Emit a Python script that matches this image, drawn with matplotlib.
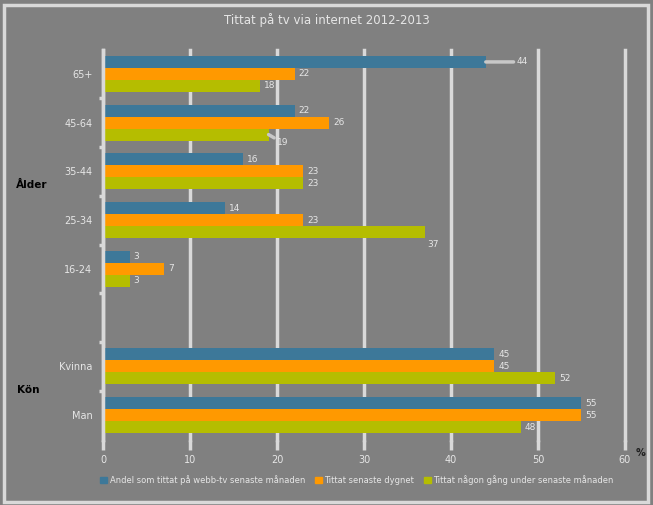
import matplotlib
matplotlib.use("Agg")
import matplotlib.pyplot as plt
from matplotlib.patches import Rectangle
import numpy as np

# ── data ────────────────────────────────────────────────────────────────
categories = ["65+", "45-64", "35-44", "25-34", "16-24", "", "Kvinna", "Man"]
series_names = [
    "Andel som tittat på webb-tv senaste månaden",
    "Tittat senaste dygnet",
    "Tittat någon gång under senaste månaden",
]
blue = [44, 22, 16, 14, 3, None, 45, 55]
orange = [22, 26, 23, 23, 7, None, 45, 55]
green = [18, 19, 23, 37, 3, None, 52, 48]
groups = ["Ålder", "Kön"]
x_ticks = [0, 10, 20, 30, 40, 50, 60]
title = "Tittat på tv via internet 2012-2013"

colors = ["#3d7899", "#ff9900", "#b5bd00"]
bg = "#808080"
light = "#d9d9d9"
txt = "#e6e6e6"

fig = plt.figure(figsize=(6.53, 5.05), dpi=100, facecolor=bg)
ax = fig.add_axes([103.5 / 653, 1 - 439.5 / 505, (624.8 - 103.5) / 653, 390 / 505])
ax.set_facecolor(bg)

# outer frame
fig.patches.append(Rectangle((3.5 / 653, 3.5 / 505), 1 - 9 / 653, 1 - 8 / 505,
                             transform=fig.transFigure, fill=False,
                             edgecolor=light, linewidth=2.5))

y = np.arange(len(categories))
h = 0.245
offsets = [-h, 0, h]

for vals, off, col in zip([blue, orange, green], offsets, colors):
    for i, v in enumerate(vals):
        if v is None:
            continue
        ax.barh(y[i] + off, v, height=h, color=col, zorder=3)

# value labels
special = {(0, 0): (22, 0), (1, 2): (6, -6), (3, 2): (2, -9)}
for s, (vals, off) in enumerate(zip([blue, orange, green], offsets)):
    for i, v in enumerate(vals):
        if v is None:
            continue
        dx, dy = special.get((i, s), (3, 0))
        arrow = None
        if dx > 5:
            arrow = dict(arrowstyle="-", color="#c8c8c8", lw=2.5, shrinkA=0, shrinkB=0)
        ax.annotate(str(v), xy=(v, y[i] + off), xytext=(dx, dy),
                    textcoords="offset points", ha="left", va="center",
                    fontsize=6.5, color=txt, zorder=5, arrowprops=arrow)

ax.set_xlim(0, 60)
ax.set_ylim(len(categories) - 0.5, -0.5)
ax.set_xticks(x_ticks)
ax.set_xticklabels([str(t) for t in x_ticks], fontsize=7, color=txt)
ax.set_yticks(y)
ax.set_yticklabels(categories, fontsize=7, color=txt)
ax.tick_params(axis="y", length=0, pad=8)
ax.tick_params(axis="x", length=7, width=2.5, color=light, pad=4)
ax.set_yticks(np.arange(1, len(categories)) - 0.5, minor=True)
ax.tick_params(axis="y", which="minor", length=3, width=2.5, color=light)

ax.grid(axis="x", color=light, linewidth=2.5, zorder=1)
ax.set_axisbelow(True)
for gl in ax.get_xgridlines():
    gl.set_clip_on(False)
for side in ["top", "right", "bottom"]:
    ax.spines[side].set_visible(False)
ax.spines["left"].set_color(light)
ax.spines["left"].set_linewidth(2.5)
ax.spines["left"].set_zorder(4)

ax.text(1.03, -0.035, "%", transform=ax.transAxes, fontsize=7,
        color="#202020", fontweight="bold", ha="center", va="center")

# group labels of the multi-level axis
fig.text(32 / 653, 1 - 185 / 505, groups[0], fontsize=7.5, fontweight="bold",
         color="black", ha="center", va="center")
fig.text(28 / 653, 1 - 390 / 505, groups[1], fontsize=7.5, fontweight="bold",
         color="black", ha="center", va="center")

fig.text(0.5, 1 - 20 / 505, title, fontsize=8.5, color=txt, ha="center", va="center")

handles = [Rectangle((0, 0), 1, 1, color=c) for c in colors]
leg = fig.legend(handles, series_names, loc="center", ncol=3,
                 bbox_to_anchor=(357 / 653, 1 - 480 / 505), frameon=False,
                 fontsize=6, handlelength=0.8, handleheight=0.8,
                 handletextpad=0.3, columnspacing=1.2)
for t in leg.get_texts():
    t.set_color(txt)

plt.savefig("out.png", dpi=100, facecolor=bg)
